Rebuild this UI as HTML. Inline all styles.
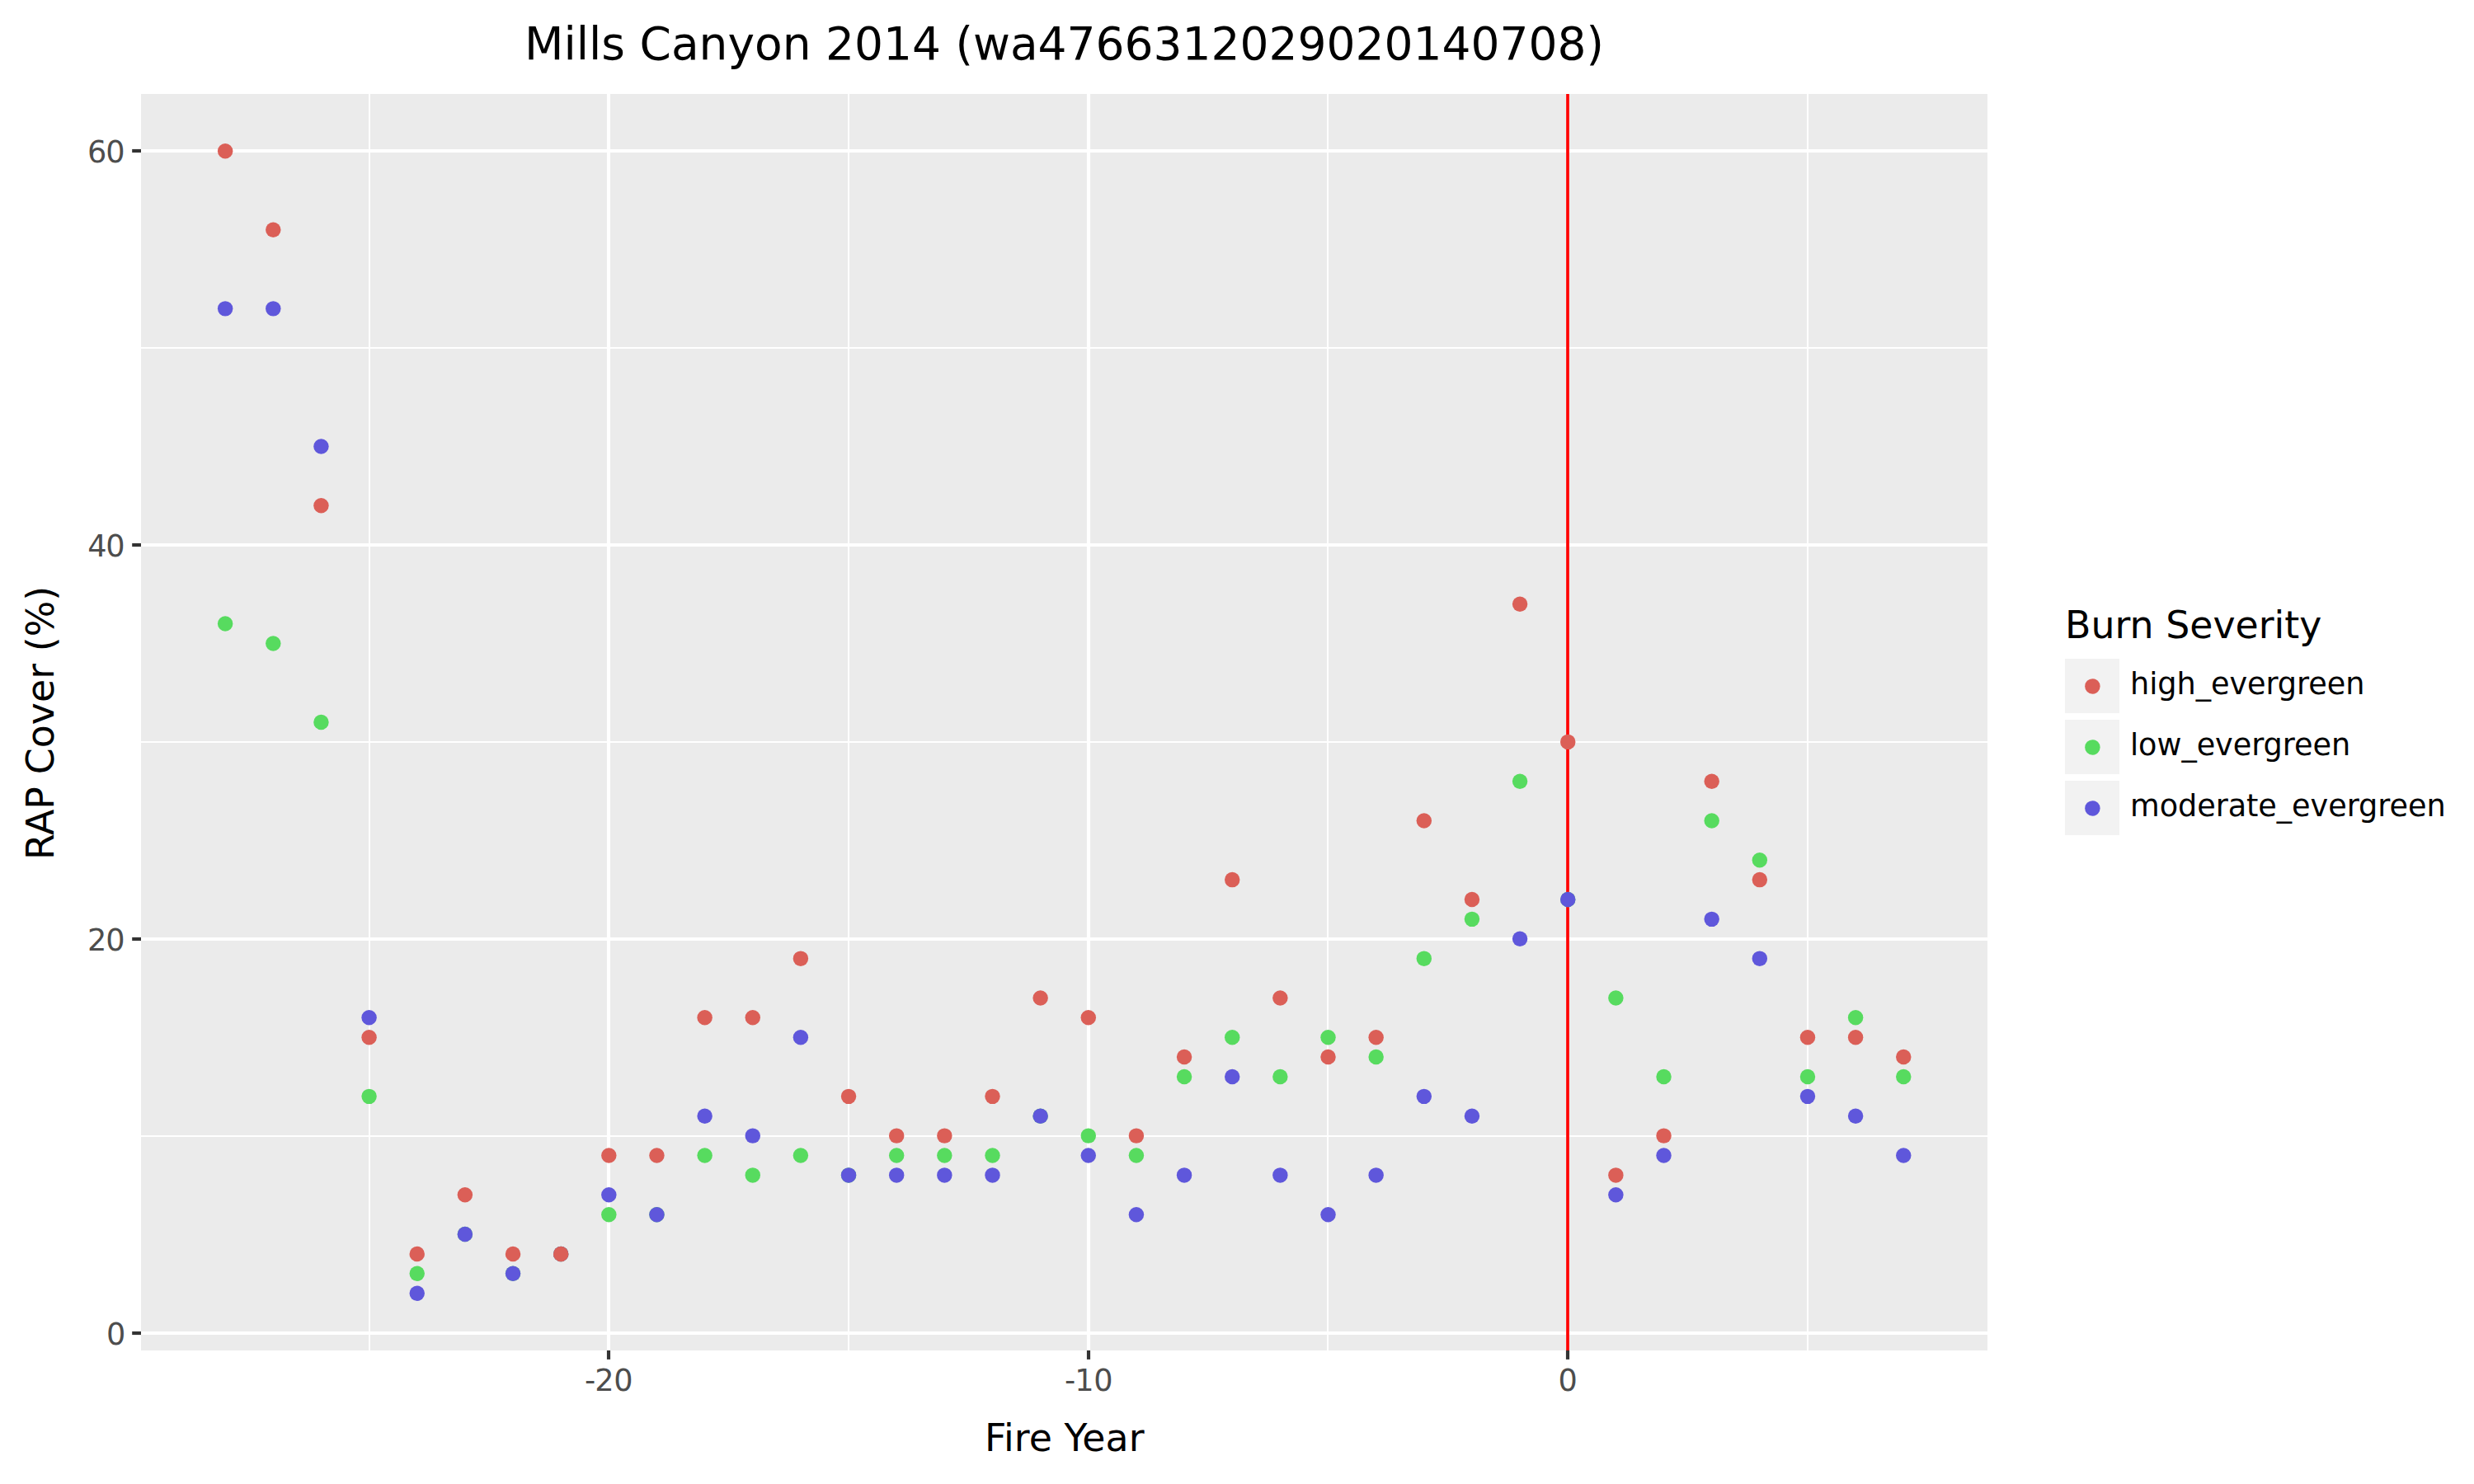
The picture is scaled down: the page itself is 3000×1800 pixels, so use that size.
<!DOCTYPE html>
<html lang="en">
<head>
<meta charset="utf-8">
<title>Mills Canyon 2014 (wa4766312029020140708)</title>
<style>
html,body{margin:0;padding:0;background:#fff;}
body{width:3000px;height:1800px;overflow:hidden;}
svg{display:block;position:absolute;left:0;top:0;}
text{font-family:"DejaVu Sans","Liberation Sans",sans-serif;}
.tick{font-size:36.67px;fill:#4D4D4D;}
.ax{font-size:45.83px;fill:#000;}
.ttl{font-size:55.00px;fill:#000;}
.leg{font-size:36.67px;fill:#000;letter-spacing:-0.07px;}
</style>
</head>
<body>
<svg width="3000" height="1800" viewBox="0 0 3000 1800">
<rect x="0" y="0" width="3000" height="1800" fill="#FFFFFF"/>
<rect x="171.00" y="114.00" width="2239.00" height="1524.00" fill="#EBEBEB"/>
<g stroke="#FFFFFF" stroke-width="2.08" shape-rendering="auto">
<line x1="171.00" x2="2410.00" y1="1378.00" y2="1378.00"/>
<line x1="171.00" x2="2410.00" y1="900.00" y2="900.00"/>
<line x1="171.00" x2="2410.00" y1="422.00" y2="422.00"/>
<line x1="448.00" x2="448.00" y1="114.00" y2="1638.00"/>
<line x1="1029.00" x2="1029.00" y1="114.00" y2="1638.00"/>
<line x1="1610.00" x2="1610.00" y1="114.00" y2="1638.00"/>
<line x1="2192.00" x2="2192.00" y1="114.00" y2="1638.00"/>
</g>
<g stroke="#FFFFFF" stroke-width="4.17">
<line x1="171.00" x2="2410.00" y1="1617.00" y2="1617.00"/>
<line x1="171.00" x2="2410.00" y1="1139.00" y2="1139.00"/>
<line x1="171.00" x2="2410.00" y1="661.00" y2="661.00"/>
<line x1="171.00" x2="2410.00" y1="183.00" y2="183.00"/>
<line x1="738.00" x2="738.00" y1="114.00" y2="1638.00"/>
<line x1="1320.00" x2="1320.00" y1="114.00" y2="1638.00"/>
<line x1="1901.00" x2="1901.00" y1="114.00" y2="1638.00"/>
</g>
<line x1="1901.00" x2="1901.00" y1="114.00" y2="1638.00" stroke="#FF0000" stroke-width="3.69"/>
<g fill="#57DB5F">
<circle cx="273.15" cy="756.56" r="9.23"/>
<circle cx="331.30" cy="780.45" r="9.23"/>
<circle cx="389.44" cy="876.00" r="9.23"/>
<circle cx="447.59" cy="1329.86" r="9.23"/>
<circle cx="505.73" cy="1544.84" r="9.23"/>
<circle cx="563.88" cy="1497.07" r="9.23"/>
<circle cx="622.03" cy="1544.84" r="9.23"/>
<circle cx="680.17" cy="1520.95" r="9.23"/>
<circle cx="738.32" cy="1473.18" r="9.23"/>
<circle cx="796.46" cy="1473.18" r="9.23"/>
<circle cx="854.61" cy="1401.52" r="9.23"/>
<circle cx="912.76" cy="1425.40" r="9.23"/>
<circle cx="970.90" cy="1401.52" r="9.23"/>
<circle cx="1029.05" cy="1425.40" r="9.23"/>
<circle cx="1087.19" cy="1401.52" r="9.23"/>
<circle cx="1145.34" cy="1401.52" r="9.23"/>
<circle cx="1203.49" cy="1401.52" r="9.23"/>
<circle cx="1261.63" cy="1353.74" r="9.23"/>
<circle cx="1319.78" cy="1377.63" r="9.23"/>
<circle cx="1377.92" cy="1401.52" r="9.23"/>
<circle cx="1436.07" cy="1305.97" r="9.23"/>
<circle cx="1494.22" cy="1258.19" r="9.23"/>
<circle cx="1552.36" cy="1305.97" r="9.23"/>
<circle cx="1610.51" cy="1258.19" r="9.23"/>
<circle cx="1668.65" cy="1282.08" r="9.23"/>
<circle cx="1726.80" cy="1162.65" r="9.23"/>
<circle cx="1784.95" cy="1114.87" r="9.23"/>
<circle cx="1843.09" cy="947.66" r="9.23"/>
<circle cx="1901.24" cy="1090.98" r="9.23"/>
<circle cx="1959.38" cy="1210.42" r="9.23"/>
<circle cx="2017.53" cy="1305.97" r="9.23"/>
<circle cx="2075.68" cy="995.44" r="9.23"/>
<circle cx="2133.82" cy="1043.21" r="9.23"/>
<circle cx="2191.97" cy="1305.97" r="9.23"/>
<circle cx="2250.11" cy="1234.31" r="9.23"/>
<circle cx="2308.26" cy="1305.97" r="9.23"/>
</g>
<g fill="#5F57DB">
<circle cx="273.15" cy="374.37" r="9.23"/>
<circle cx="331.30" cy="374.37" r="9.23"/>
<circle cx="389.44" cy="541.58" r="9.23"/>
<circle cx="447.59" cy="1234.31" r="9.23"/>
<circle cx="505.73" cy="1568.73" r="9.23"/>
<circle cx="563.88" cy="1497.07" r="9.23"/>
<circle cx="622.03" cy="1544.84" r="9.23"/>
<circle cx="680.17" cy="1520.95" r="9.23"/>
<circle cx="738.32" cy="1449.29" r="9.23"/>
<circle cx="796.46" cy="1473.18" r="9.23"/>
<circle cx="854.61" cy="1353.74" r="9.23"/>
<circle cx="912.76" cy="1377.63" r="9.23"/>
<circle cx="970.90" cy="1258.19" r="9.23"/>
<circle cx="1029.05" cy="1425.40" r="9.23"/>
<circle cx="1087.19" cy="1425.40" r="9.23"/>
<circle cx="1145.34" cy="1425.40" r="9.23"/>
<circle cx="1203.49" cy="1425.40" r="9.23"/>
<circle cx="1261.63" cy="1353.74" r="9.23"/>
<circle cx="1319.78" cy="1401.52" r="9.23"/>
<circle cx="1377.92" cy="1473.18" r="9.23"/>
<circle cx="1436.07" cy="1425.40" r="9.23"/>
<circle cx="1494.22" cy="1305.97" r="9.23"/>
<circle cx="1552.36" cy="1425.40" r="9.23"/>
<circle cx="1610.51" cy="1473.18" r="9.23"/>
<circle cx="1668.65" cy="1425.40" r="9.23"/>
<circle cx="1726.80" cy="1329.86" r="9.23"/>
<circle cx="1784.95" cy="1353.74" r="9.23"/>
<circle cx="1843.09" cy="1138.76" r="9.23"/>
<circle cx="1901.24" cy="1090.98" r="9.23"/>
<circle cx="1959.38" cy="1449.29" r="9.23"/>
<circle cx="2017.53" cy="1401.52" r="9.23"/>
<circle cx="2075.68" cy="1114.87" r="9.23"/>
<circle cx="2133.82" cy="1162.65" r="9.23"/>
<circle cx="2191.97" cy="1329.86" r="9.23"/>
<circle cx="2250.11" cy="1353.74" r="9.23"/>
<circle cx="2308.26" cy="1401.52" r="9.23"/>
</g>
<g fill="#DB5F57">
<circle cx="273.15" cy="183.27" r="9.23"/>
<circle cx="331.30" cy="278.82" r="9.23"/>
<circle cx="389.44" cy="613.24" r="9.23"/>
<circle cx="447.59" cy="1258.19" r="9.23"/>
<circle cx="505.73" cy="1520.95" r="9.23"/>
<circle cx="563.88" cy="1449.29" r="9.23"/>
<circle cx="622.03" cy="1520.95" r="9.23"/>
<circle cx="680.17" cy="1520.95" r="9.23"/>
<circle cx="738.32" cy="1401.52" r="9.23"/>
<circle cx="796.46" cy="1401.52" r="9.23"/>
<circle cx="854.61" cy="1234.31" r="9.23"/>
<circle cx="912.76" cy="1234.31" r="9.23"/>
<circle cx="970.90" cy="1162.65" r="9.23"/>
<circle cx="1029.05" cy="1329.86" r="9.23"/>
<circle cx="1087.19" cy="1377.63" r="9.23"/>
<circle cx="1145.34" cy="1377.63" r="9.23"/>
<circle cx="1203.49" cy="1329.86" r="9.23"/>
<circle cx="1261.63" cy="1210.42" r="9.23"/>
<circle cx="1319.78" cy="1234.31" r="9.23"/>
<circle cx="1377.92" cy="1377.63" r="9.23"/>
<circle cx="1436.07" cy="1282.08" r="9.23"/>
<circle cx="1494.22" cy="1067.10" r="9.23"/>
<circle cx="1552.36" cy="1210.42" r="9.23"/>
<circle cx="1610.51" cy="1282.08" r="9.23"/>
<circle cx="1668.65" cy="1258.19" r="9.23"/>
<circle cx="1726.80" cy="995.44" r="9.23"/>
<circle cx="1784.95" cy="1090.98" r="9.23"/>
<circle cx="1843.09" cy="732.68" r="9.23"/>
<circle cx="1901.24" cy="899.89" r="9.23"/>
<circle cx="1959.38" cy="1425.40" r="9.23"/>
<circle cx="2017.53" cy="1377.63" r="9.23"/>
<circle cx="2075.68" cy="947.66" r="9.23"/>
<circle cx="2133.82" cy="1067.10" r="9.23"/>
<circle cx="2191.97" cy="1258.19" r="9.23"/>
<circle cx="2250.11" cy="1258.19" r="9.23"/>
<circle cx="2308.26" cy="1282.08" r="9.23"/>
</g>
<g stroke="#333333" stroke-width="4.17">
<line x1="160.20" x2="171.00" y1="1617.00" y2="1617.00"/>
<line x1="160.20" x2="171.00" y1="1139.00" y2="1139.00"/>
<line x1="160.20" x2="171.00" y1="661.00" y2="661.00"/>
<line x1="160.20" x2="171.00" y1="183.00" y2="183.00"/>
<line x1="738.00" x2="738.00" y1="1638.00" y2="1648.90"/>
<line x1="1320.00" x2="1320.00" y1="1638.00" y2="1648.90"/>
<line x1="1901.00" x2="1901.00" y1="1638.00" y2="1648.90"/>
</g>
<text class="tick" x="128.97" y="1631.00">0</text>
<text class="tick" x="105.99 128.17" y="1153.00">20</text>
<text class="tick" x="106.29 128.17" y="675.00">40</text>
<text class="tick" x="105.99 128.17" y="197.00">60</text>
<text class="tick" x="709.05 721.19 744.29" y="1687.00">-20</text>
<text class="tick" x="1291.05 1303.19 1326.29" y="1687.00">-10</text>
<text class="tick" x="1889.57" y="1687.00">0</text>
<text class="ax" text-anchor="middle" x="1290.80" y="1760.00">Fire Year</text>
<text class="ax" text-anchor="middle" style="letter-spacing:0.055px" transform="translate(65.00,876.95) rotate(-90)">RAP Cover (%)</text>
<text class="ttl" text-anchor="middle" x="1290.50" y="72.00">Mills Canyon 2014 (wa4766312029020140708)</text>
<text class="ax" x="2504.00" y="774.00">Burn Severity</text>
<rect x="2504" y="799.00" width="66" height="66" fill="#F2F2F2"/>
<circle cx="2537.4" cy="832.40" r="9.23" fill="#DB5F57"/>
<text class="leg" x="2583.0" y="842.00">high_evergreen</text>
<rect x="2504" y="873.00" width="66" height="66" fill="#F2F2F2"/>
<circle cx="2537.4" cy="906.40" r="9.23" fill="#57DB5F"/>
<text class="leg" x="2583.0" y="916.00">low_evergreen</text>
<rect x="2504" y="947.00" width="66" height="66" fill="#F2F2F2"/>
<circle cx="2537.4" cy="980.40" r="9.23" fill="#5F57DB"/>
<text class="leg" x="2583.0" y="990.00">moderate_evergreen</text>
</svg>
</body>
</html>
